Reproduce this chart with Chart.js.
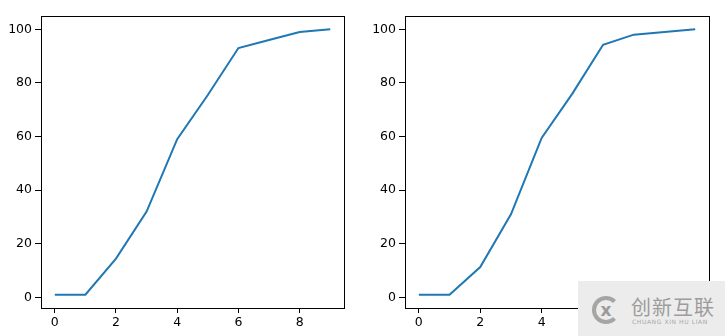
<!DOCTYPE html>
<html>
<head>
<meta charset="utf-8">
<script src="https://cdn.jsdelivr.net/npm/chart.js@4/dist/chart.umd.min.js"></script>
<style>
  body { margin: 0; background: #fff; width: 725px; height: 336px; position: relative; overflow: hidden; }
  .box { position: absolute; top: 0; height: 336px; }
  #wm { position: absolute; left: 578px; top: 281px; width: 147px; height: 55px; background: #ececec; }
  #wm .logo { position: absolute; left: 14px; top: 15px; width: 20px; height: 20px; border: 4px solid #a5a5a5; border-radius: 50%; border-right-color: transparent;
              font: bold 17px "DejaVu Sans"; color: #9a9a9a; text-align: center; line-height: 20px; }
  #wm .cn { position: absolute; left: 53px; top: 14px; font: 20px "Noto Sans CJK SC"; color: #9c9c9c; letter-spacing: 1px; line-height: 24px; }
  #wm .en { position: absolute; left: 54px; top: 37px; font: 6px "DejaVu Sans"; color: #a8a8a8; letter-spacing: 0.6px; }
</style>
</head>
<body>
<div class="box" style="left:0;width:362px"><canvas id="c1"></canvas></div>
<div class="box" style="left:364px;width:361px"><canvas id="c2"></canvas></div>
<div id="wm"><div class="logo">x</div><div class="cn">创新互联</div><div class="en">CHUANG XIN HU LIAN</div></div>
<script>
// данные
const xs = [0, 1, 2, 3, 4, 5, 6, 7, 8, 9];
const leftValues = [1, 1, 14.5, 32, 59, 75.5, 93, 96, 99, 100];
const rightValues = [1, 1, 11.3, 31, 59.5, 76, 94.2, 98, 99, 100];
const xTicks = [0, 2, 4, 6, 8];
const yTicks = [0, 20, 40, 60, 80, 100];

const font = { family: 'DejaVu Sans', size: 12.5 };

// рамка вокруг области графика
const frame = {
  id: 'frame',
  afterDraw(chart) {
    const a = chart.chartArea, c = chart.ctx;
    c.save();
    c.strokeStyle = '#000';
    c.lineWidth = 1;
    c.strokeRect(Math.round(a.left) + 0.5, Math.round(a.top) + 0.5, Math.round(a.right - a.left), Math.round(a.bottom - a.top));
    c.restore();
  }
};

function makeChart(id, values, yWidth, rightPad) {
  new Chart(document.getElementById(id), {
    type: 'line',
    data: {
      datasets: [{
        data: xs.map((x, i) => ({ x: x, y: values[i] })),
        borderColor: '#1f77b4',
        borderWidth: 2,
        pointRadius: 0,
        tension: 0
      }]
    },
    options: {
      responsive: true,
      maintainAspectRatio: false,
      animation: false,
      layout: { padding: { top: 16, right: rightPad, left: 0, bottom: 0 } },
      plugins: { legend: { display: false }, tooltip: { enabled: false } },
      scales: {
        x: {
          type: 'linear',
          min: -0.45, max: 9.45,
          afterFit(s) { s.height = 28; },
          afterBuildTicks(s) { s.ticks = xTicks.map(v => ({ value: v })); },
          ticks: { color: '#000', font: font, padding: 2, maxRotation: 0 },
          grid: { drawOnChartArea: false, color: '#000', tickLength: 5 },
          border: { display: false }
        },
        y: {
          min: -3.95, max: 104.95,
          afterFit(s) { s.width = yWidth; },
          afterBuildTicks(s) { s.ticks = yTicks.map(v => ({ value: v })); },
          ticks: { color: '#000', font: font, padding: 3 },
          grid: { drawOnChartArea: false, color: '#000', tickLength: 6 },
          border: { display: false }
        }
      }
    },
    plugins: [frame]
  });
}

makeChart('c1', leftValues, 41, 18);
makeChart('c2', rightValues, 41, 16);
</script>
</body>
</html>
